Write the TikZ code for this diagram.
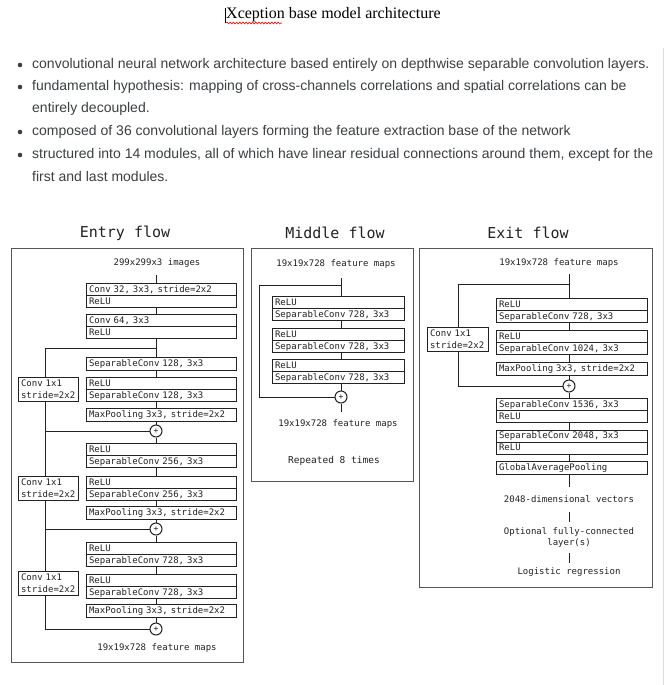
\documentclass[tikz,border=0pt]{standalone}
\usepackage{fontspec}
\setmainfont{Liberation Sans}
\newfontfamily\monof{DejaVu Sans Mono}
\newfontfamily\seriff{Liberation Serif}
\usetikzlibrary{decorations.pathmorphing}
\definecolor{bul}{HTML}{3C4043}
\definecolor{frm}{HTML}{555555}
\definecolor{bx}{HTML}{222222}
\definecolor{edge}{HTML}{DDDDDD}
\begin{document}
\begin{tikzpicture}[x=1pt,y=-1pt,
  bt/.style={anchor=west, text=bul, font=\fontsize{14}{16}\selectfont, inner sep=0pt, text height=10.5pt, text depth=3pt},
  frame/.style={draw=frm, line width=0.9pt},
  ttl/.style={font=\monof\fontsize{15}{17}\selectfont, text=bx, inner sep=0pt},
  txt/.style={font=\monof\fontsize{9}{12}\selectfont, text=bx},
  io/.style={txt, text height=7pt, text depth=2pt, inner ysep=7.5pt, inner xsep=0pt},
  lay/.style={draw=bx, line width=1.1pt, font=\monof\fontsize{9}{12}\selectfont, text=bx, anchor=north west, align=left, inner xsep=2.5pt, inner ysep=0pt},
  two/.style={lay, minimum height=24pt, text height=7pt, text depth=14pt},
  one/.style={lay, minimum height=12.5pt, text height=7pt, text depth=2pt},
  ew/.style={text width=145pt}, mw/.style={text width=127pt}, xw/.style={text width=146pt}, cw/.style={text width=55pt},
  ln/.style={draw=bx, line width=1pt},
  divl/.style={draw=bx, line width=0.9pt},
  plus/.style={circle, draw=bx, line width=1pt, minimum size=12pt, inner sep=0pt, font=\monof\fontsize{8}{8}\selectfont, text=bx}
]
\useasboundingbox (0,0) rectangle (665,685);
\fill[white] (0,0) rectangle (665,685);
\draw[edge, line width=1pt] (663,48) -- (663,685);

% ---------- title and bullets ----------
\node[font=\seriff\fontsize{16}{18}\selectfont, anchor=west, inner sep=0pt, text=black] (title) at (226,15) {Xception base model architecture};
\draw[black, line width=0.6pt] (225.5,8) -- (225.5,23);
\draw[red, line width=0.6pt, decorate, decoration={snake, amplitude=0.9pt, segment length=3.2pt}] (226,23) -- (282,23);

\foreach \y in {65,87,132,155} \fill[bul] (20,\y) circle (2.3);
\node[bt] (b1) at (32,65) {convolutional neural network architecture based entirely on depthwise separable convolution layers.};
\node[bt] (b2) at (32,87) {fundamental hypothesis: mapping of cross-channels correlations and spatial correlations can be};
\node[bt] (b2b) at (32,109) {entirely decoupled.};
\node[bt] (b3) at (32,132) {composed of 36 convolutional layers forming the feature extraction base of the network};
\node[bt] (b4) at (32,155) {structured into 14 modules, all of which have linear residual connections around them, except for the};
\node[bt] (b4b) at (32,178) {first and last modules.};

% ---------- Entry flow ----------
\node[ttl] (et) at (125,233) {Entry flow};
\draw[frame] (11,248) rectangle (243,662);
\node[io] (ein) at (157,263) {299x299x3 images};
\coordinate (es) at (156,275);
\coordinate (eL) at (45,0);
\node[two, ew] (e1) at (86,283) {Conv 32, 3x3, stride=2x2\\ReLU};
\node[two, ew] (e2) at (86,314) {Conv 64, 3x3\\ReLU};
\coordinate (ej) at (156,348);
\node[one, ew] (e3) at (86,357) {SeparableConv 128, 3x3};
\node[two, ew] (e4) at (86,377) {ReLU\\SeparableConv 128, 3x3};
\node[two, cw] (c1) at (18,377) {Conv 1x1\\stride=2x2};
\node[one, ew] (e5) at (86,408) {MaxPooling 3x3, stride=2x2};
\node[plus] (p1) at (156,431) {+};
\node[two, ew] (e6) at (86,443) {ReLU\\SeparableConv 256, 3x3};
\node[two, ew] (e7) at (86,476) {ReLU\\SeparableConv 256, 3x3};
\node[two, cw] (c2) at (18,476) {Conv 1x1\\stride=2x2};
\node[one, ew] (e8) at (86,506) {MaxPooling 3x3, stride=2x2};
\node[plus] (p2) at (156,529) {+};
\node[two, ew] (e9) at (86,542) {ReLU\\SeparableConv 728, 3x3};
\node[two, ew] (e10) at (86,574) {ReLU\\SeparableConv 728, 3x3};
\node[two, cw] (c3) at (18,571) {Conv 1x1\\stride=2x2};
\node[one, ew] (e11) at (86,604) {MaxPooling 3x3, stride=2x2};
\node[plus] (p3) at (156,629) {+};
\node[io] (eout) at (157,648) {19x19x728 feature maps};

\draw[ln] (es) -- (e1.north -| es);
\draw[ln] (e1.south -| es) -- (e2.north -| es);
\draw[ln] (e2.south -| es) -- (e3.north -| es);
\draw[ln] (e3.south -| es) -- (e4.north -| es);
\draw[ln] (e4.south -| es) -- (e5.north -| es);
\draw[ln] (e5.south -| es) -- (p1.north);
\draw[ln] (p1.south) -- (e6.north -| es);
\draw[ln] (e6.south -| es) -- (e7.north -| es);
\draw[ln] (e7.south -| es) -- (e8.north -| es);
\draw[ln] (e8.south -| es) -- (p2.north);
\draw[ln] (p2.south) -- (e9.north -| es);
\draw[ln] (e9.south -| es) -- (e10.north -| es);
\draw[ln] (e10.south -| es) -- (e11.north -| es);
\draw[ln] (e11.south -| es) -- (p3.north);
\draw[ln] (ej) -| (c1.north -| eL);
\draw[ln] (c1.south -| eL) |- (p1.west);
\draw[ln] (p1.west) -| (c2.north -| eL);
\draw[ln] (c2.south -| eL) |- (p2.west);
\draw[ln] (p2.west) -| (c3.north -| eL);
\draw[ln] (c3.south -| eL) |- (p3.west);

% ---------- Middle flow ----------
\node[ttl] (mt) at (335,233) {Middle flow};
\draw[frame] (251,248) rectangle (413,481);
\node[io] (min) at (336,264) {19x19x728 feature maps};
\coordinate (ms) at (341,278);
\coordinate (mj) at (341,285);
\coordinate (mL) at (259,285);
\node[two, mw] (m1) at (272,296) {ReLU\\SeparableConv 728, 3x3};
\node[two, mw] (m2) at (272,328) {ReLU\\SeparableConv 728, 3x3};
\node[two, mw] (m3) at (272,359) {ReLU\\SeparableConv 728, 3x3};
\node[plus] (mp) at (341,397) {+};
\node[io] (mout) at (338,424) {19x19x728 feature maps};
\node[txt, font=\monof\fontsize{9.5}{12}\selectfont] (mrep) at (334,461) {Repeated 8 times};

\draw[ln] (ms) -- (m1.north -| ms);
\draw[ln] (m1.south -| ms) -- (m2.north -| ms);
\draw[ln] (m2.south -| ms) -- (m3.north -| ms);
\draw[ln] (m3.south -| ms) -- (mp.north);
\draw[ln] (mp.south) -- (mout.north -| mp);
\draw[ln] (mj) -- (mL) |- (mp.west);

% ---------- Exit flow ----------
\node[ttl] (xt) at (528,233) {Exit flow};
\draw[frame] (419,248) rectangle (652,587);
\node[io] (xin) at (559,263) {19x19x728 feature maps};
\coordinate (xs) at (569,274);
\coordinate (xj) at (569,284);
\coordinate (xL) at (458,284);
\node[two, xw] (x1) at (496,298) {ReLU\\SeparableConv 728, 3x3};
\node[two, xw] (x2) at (496,330) {ReLU\\SeparableConv 1024, 3x3};
\node[two, text width=56pt] (cx) at (427,327) {Conv 1x1\\stride=2x2};
\node[one, xw] (x3) at (496,362) {MaxPooling 3x3, stride=2x2};
\node[plus] (xp) at (569,386) {+};
\node[two, xw] (x4) at (496,398) {SeparableConv 1536, 3x3\\ReLU};
\node[two, xw] (x5) at (496,429.5) {SeparableConv 2048, 3x3\\ReLU};
\node[one, xw] (x6) at (496,461) {GlobalAveragePooling};
\node[txt, inner xsep=0pt, inner ysep=8pt, text height=7pt, text depth=2pt] (vec) at (569,499.5) {2048-dimensional vectors};
\node[txt, align=center, inner sep=0pt, minimum height=31pt, font=\monof\fontsize{9}{11}\selectfont] (fc) at (569,537.5) {Optional fully-connected\\layer(s)};
\node[txt, inner sep=0pt, minimum height=18pt] (lr) at (569,572) {Logistic regression};

\draw[ln] (xs) -- (x1.north -| xs);
\draw[ln] (x1.south -| xs) -- (x2.north -| xs);
\draw[ln] (x2.south -| xs) -- (x3.north -| xs);
\draw[ln] (x3.south -| xs) -- (xp.north);
\draw[ln] (xp.south) -- (x4.north -| xs);
\draw[ln] (x4.south -| xs) -- (x5.north -| xs);
\draw[ln] (x5.south -| xs) -- (x6.north -| xs);
\draw[ln] (x6.south -| xs) -- (vec.north);
\draw[ln] (vec.south) -- (fc.north);
\draw[ln] (fc.south) -- (lr.north);
\draw[ln] (xj) -- (xL) -- (cx.north -| xL);
\draw[ln] (cx.south -| xL) |- (xp.west);

\foreach \n in {e1,e2,e4,e6,e7,e9,e10,m1,m2,m3,x1,x2,x4,x5} \draw[divl] (\n.west) -- (\n.east);
\end{tikzpicture}
\end{document}
